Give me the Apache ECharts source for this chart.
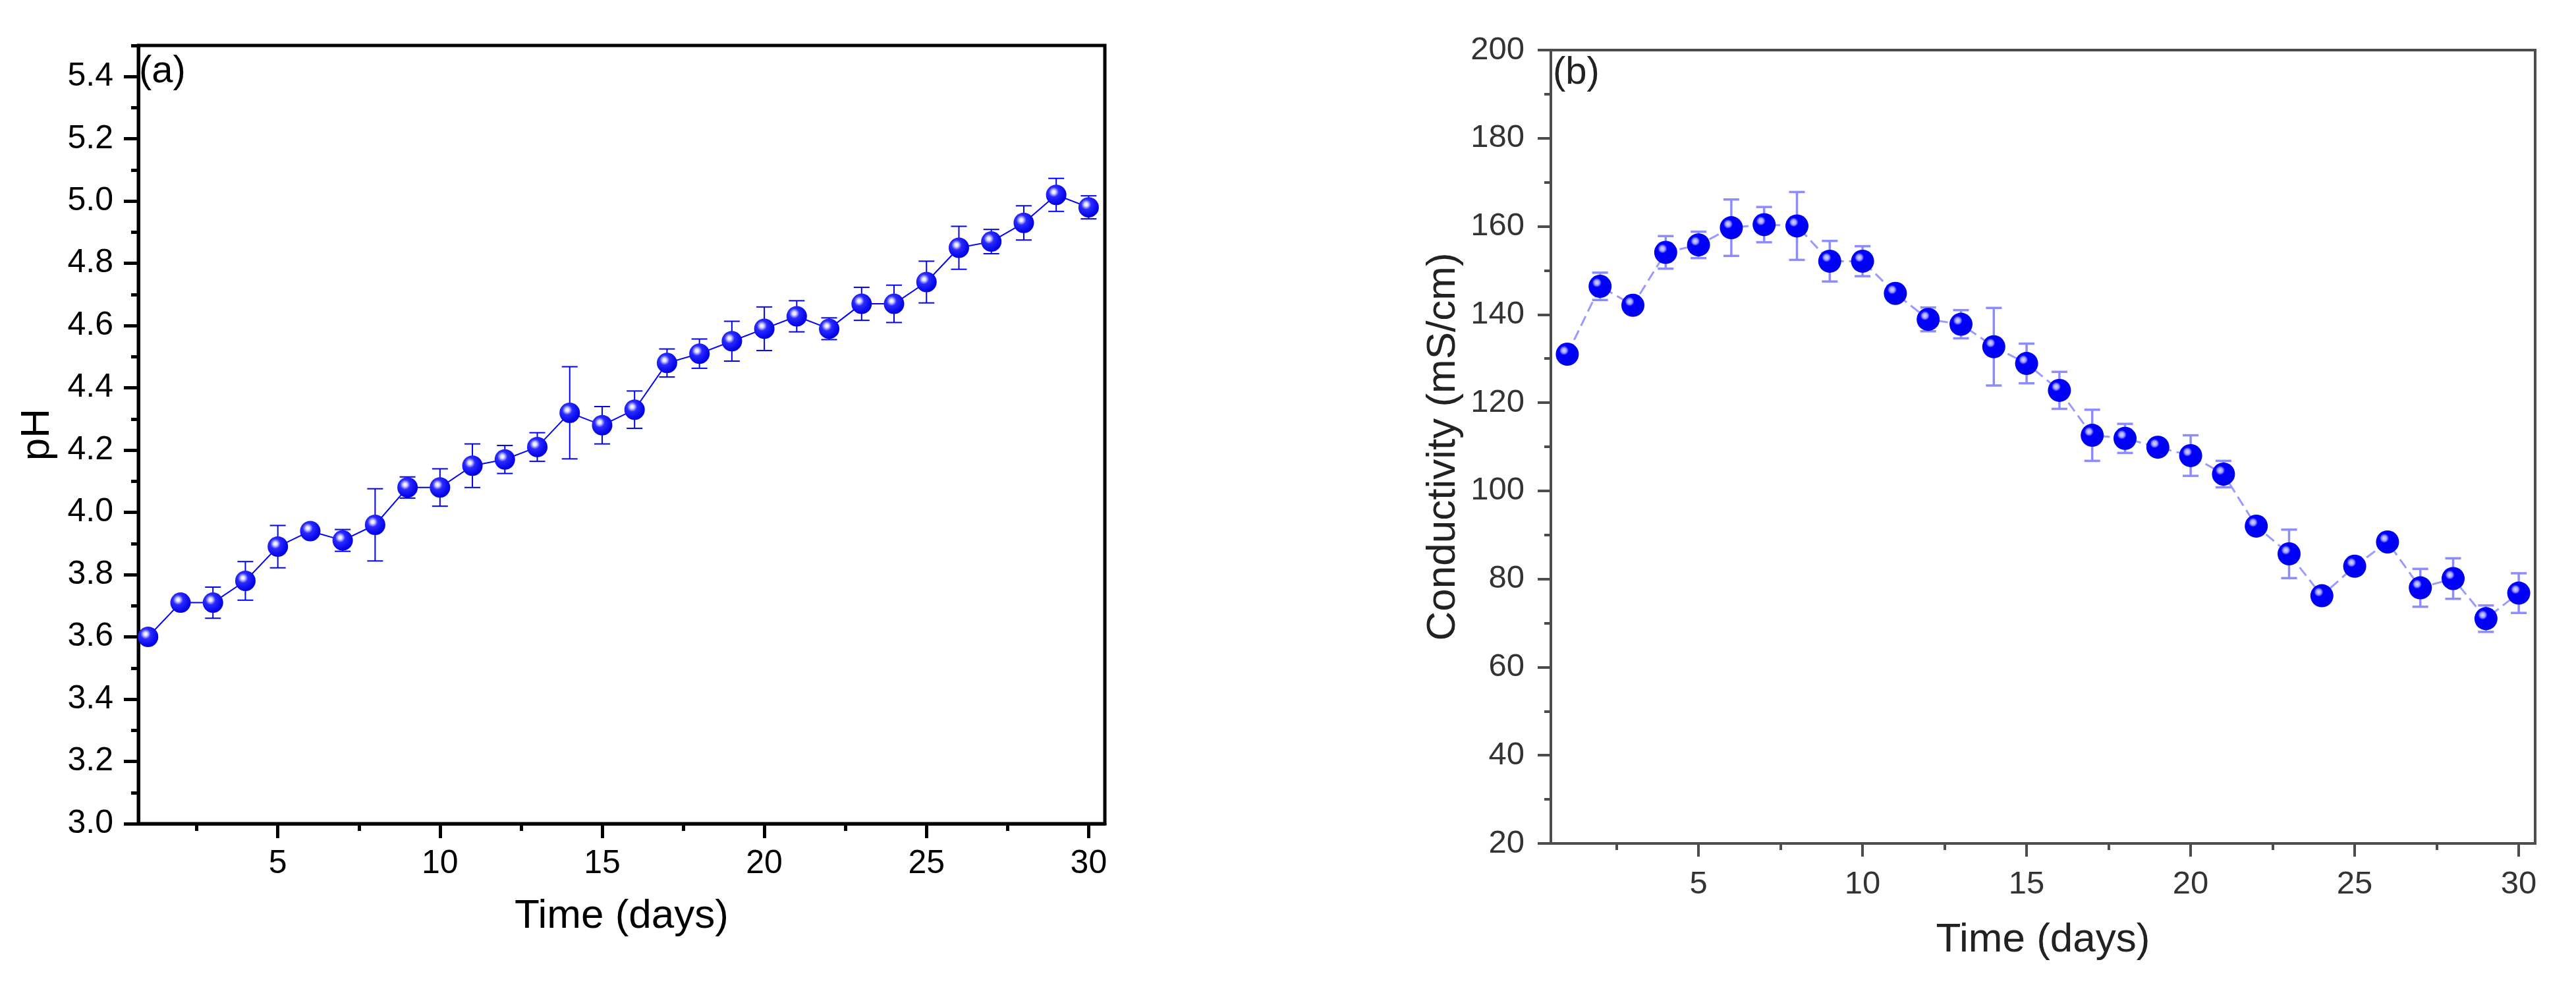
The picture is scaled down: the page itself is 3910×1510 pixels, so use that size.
<!DOCTYPE html>
<html>
<head>
<meta charset="utf-8">
<script src="https://cdn.jsdelivr.net/npm/echarts@6/dist/echarts.min.js"></script>
<style>
  html, body { margin: 0; padding: 0; background: #fff; }
  #chart { width: 3910px; height: 1510px; }
</style>
</head>
<body>
<div id="chart"></div>
<script>
// days of sampling
const days = [1, 2, 3, 4, 5, 6, 7, 8, 9, 10, 11, 12, 13, 14, 15, 16, 17, 18, 19, 20, 21, 22, 23, 24, 25, 26, 27, 28, 29, 30];

// (a) pH
const phValues = [3.60, 3.71, 3.71, 3.78, 3.89, 3.94, 3.91, 3.96, 4.08, 4.08, 4.15, 4.17, 4.21, 4.32, 4.28,
                  4.33, 4.48, 4.51, 4.55, 4.59, 4.63, 4.59, 4.67, 4.67, 4.74, 4.85, 4.87, 4.93, 5.02, 4.98];
const phErrors = [0, 0, 0.05, 0.062, 0.068, 0.01, 0.035, 0.116, 0.034, 0.06, 0.07, 0.045, 0.046, 0.148, 0.06,
                  0.06, 0.045, 0.047, 0.064, 0.07, 0.05, 0.035, 0.053, 0.06, 0.067, 0.069, 0.039, 0.055, 0.053, 0.037];

// (b) conductivity
const condValues = [131.0, 146.4, 142.1, 154.1, 155.8, 159.7, 160.4, 160.1, 152.1, 152.1, 144.8, 138.9, 137.8, 132.7, 128.9,
                    122.8, 112.6, 111.9, 109.9, 108.0, 103.8, 92.0, 85.7, 76.2, 82.9, 88.4, 78.0, 80.1, 71.0, 76.8];
const condErrors = [0, 3.1, 0, 3.7, 3.0, 6.4, 4.0, 7.7, 4.6, 3.4, 0, 2.7, 3.2, 8.8, 4.5,
                    4.2, 5.8, 3.3, 0, 4.6, 3.0, 0, 5.5, 0, 0, 0, 4.3, 4.6, 3.0, 4.5];

// tick values
const dayTicks = [5, 10, 15, 20, 25, 30];
const dayMinorTicks = [2.5, 7.5, 12.5, 17.5, 22.5, 27.5];
const phTicks = [3.0, 3.2, 3.4, 3.6, 3.8, 4.0, 4.2, 4.4, 4.6, 4.8, 5.0, 5.2, 5.4];
const phMinorTicks = [3.1, 3.3, 3.5, 3.7, 3.9, 4.1, 4.3, 4.5, 4.7, 4.9, 5.1, 5.3, 5.5];
const condTicks = [20, 40, 60, 80, 100, 120, 140, 160, 180, 200];
const condMinorTicks = [30, 50, 70, 90, 110, 130, 150, 170, 190];

const FONT = '"Liberation Sans", Arial, sans-serif';

const pairs = (xs, ys) => xs.map((x, i) => [x, ys[i]]);
const errData = (xs, ys, es) => xs
    .map((x, i) => [x, ys[i] - es[i], ys[i] + es[i], es[i]])
    .filter(d => d[3] > 0);

// vertical error bar with caps
const errorBar = (capHalf, color, width) => (params, api) => {
    const x = api.value(0);
    const top = api.coord([x, api.value(2)]);
    const bot = api.coord([x, api.value(1)]);
    const style = { stroke: color, lineWidth: width };
    return {
        type: 'group',
        children: [
            { type: 'line', shape: { x1: top[0], y1: top[1], x2: bot[0], y2: bot[1] }, style },
            { type: 'line', shape: { x1: top[0] - capHalf, y1: top[1], x2: top[0] + capHalf, y2: top[1] }, style },
            { type: 'line', shape: { x1: bot[0] - capHalf, y1: bot[1], x2: bot[0] + capHalf, y2: bot[1] }, style }
        ]
    };
};

// 3D-looking sphere markers
const sphereA = {
    type: 'radial', x: 0.38, y: 0.36, r: 0.62,
    colorStops: [
        { offset: 0, color: '#ffffff' },
        { offset: 0.14, color: '#e0e0ff' },
        { offset: 0.26, color: '#8a8aff' },
        { offset: 0.4, color: '#2a2aff' },
        { offset: 1, color: '#0000e6' }
    ]
};
const sphereB = {
    type: 'radial', x: 0.36, y: 0.34, r: 0.6,
    colorStops: [
        { offset: 0, color: '#d8d8ff' },
        { offset: 0.18, color: '#a0a0ff' },
        { offset: 0.34, color: '#0000ff' },
        { offset: 1, color: '#0000f0' }
    ]
};

const axisCommon = (color, lw) => ({
    type: 'value',
    splitLine: { show: false },
    axisLine: { show: true, onZero: false, lineStyle: { color, width: lw } }
});

const chart = echarts.init(document.getElementById('chart'));

chart.setOption({
    backgroundColor: '#ffffff',
    animation: false,
    grid: [
        { left: 210, top: 69, width: 1467, height: 1181, show: true, borderColor: '#000', borderWidth: 5, backgroundColor: 'transparent' },
        { left: 2354, top: 76, width: 1494, height: 1204, show: true, borderColor: '#4d4d4d', borderWidth: 4, backgroundColor: 'transparent' }
    ],
    xAxis: [
        Object.assign(axisCommon('#000', 5), {
            gridIndex: 0, min: 0.7, max: 30.5, position: 'bottom',
            name: 'Time (days)', nameLocation: 'middle', nameGap: 110,
            nameTextStyle: { fontFamily: FONT, fontSize: 62, color: '#000' },
            axisTick: { show: true, customValues: dayTicks, length: 22, lineStyle: { color: '#000', width: 5 } },
            axisLabel: { show: true, customValues: dayTicks, margin: 36, fontFamily: FONT, fontSize: 50, color: '#000' }
        }),
        Object.assign(axisCommon('#000', 5), {
            gridIndex: 0, min: 0.7, max: 30.5, position: 'bottom',
            axisLine: { show: false },
            axisTick: { show: true, customValues: dayMinorTicks, length: 11, lineStyle: { color: '#000', width: 5 } },
            axisLabel: { show: false }
        }),
        Object.assign(axisCommon('#4d4d4d', 4), {
            gridIndex: 1, min: 0.5, max: 30.5, position: 'bottom',
            name: 'Time (days)', nameLocation: 'middle', nameGap: 116,
            nameTextStyle: { fontFamily: FONT, fontSize: 62, color: '#222' },
            axisTick: { show: true, customValues: dayTicks, length: 20, lineStyle: { color: '#4d4d4d', width: 4 } },
            axisLabel: { show: true, customValues: dayTicks, margin: 38, fontFamily: FONT, fontSize: 49, color: '#333' }
        }),
        Object.assign(axisCommon('#4d4d4d', 4), {
            gridIndex: 1, min: 0.5, max: 30.5, position: 'bottom',
            axisLine: { show: false },
            axisTick: { show: true, customValues: dayMinorTicks, length: 10, lineStyle: { color: '#4d4d4d', width: 4 } },
            axisLabel: { show: false }
        })
    ],
    yAxis: [
        Object.assign(axisCommon('#000', 5), {
            gridIndex: 0, min: 3.0, max: 5.5, position: 'left',
            name: 'pH', nameLocation: 'middle', nameRotate: 90, nameGap: 122,
            nameTextStyle: { fontFamily: FONT, fontSize: 62, color: '#000' },
            axisTick: { show: true, customValues: phTicks, length: 22, lineStyle: { color: '#000', width: 5 } },
            axisLabel: { show: true, customValues: phTicks, margin: 38, fontFamily: FONT, fontSize: 50, color: '#000',
                         formatter: v => v.toFixed(1) }
        }),
        Object.assign(axisCommon('#000', 5), {
            gridIndex: 0, min: 3.0, max: 5.5, position: 'left',
            axisLine: { show: false },
            axisTick: { show: true, customValues: phMinorTicks, length: 11, lineStyle: { color: '#000', width: 5 } },
            axisLabel: { show: false }
        }),
        Object.assign(axisCommon('#4d4d4d', 4), {
            gridIndex: 1, min: 20, max: 200, position: 'left',
            name: 'Conductivity (mS/cm)', nameLocation: 'middle', nameRotate: 90, nameGap: 132,
            nameTextStyle: { fontFamily: FONT, fontSize: 62, color: '#222' },
            axisTick: { show: true, customValues: condTicks, length: 20, lineStyle: { color: '#4d4d4d', width: 4 } },
            axisLabel: { show: true, customValues: condTicks, margin: 40, fontFamily: FONT, fontSize: 49, color: '#333' }
        }),
        Object.assign(axisCommon('#4d4d4d', 4), {
            gridIndex: 1, min: 20, max: 200, position: 'left',
            axisLine: { show: false },
            axisTick: { show: true, customValues: condMinorTicks, length: 10, lineStyle: { color: '#4d4d4d', width: 4 } },
            axisLabel: { show: false }
        })
    ],
    graphic: [
        { type: 'text', left: 211, top: 80, style: { text: '(a)', fontFamily: FONT, fontSize: 58, fill: '#000' } },
        { type: 'text', left: 2357, top: 82, style: { text: '(b)', fontFamily: FONT, fontSize: 58, fill: '#222' } }
    ],
    series: [
        {
            type: 'custom', xAxisIndex: 0, yAxisIndex: 0, z: 2,
            data: errData(days, phValues, phErrors),
            renderItem: errorBar(12, '#0000ff', 2)
        },
        {
            type: 'line', xAxisIndex: 0, yAxisIndex: 0, z: 3,
            data: pairs(days, phValues),
            symbol: 'circle', symbolSize: 31,
            lineStyle: { color: '#0000ff', width: 2 },
            itemStyle: { color: sphereA, borderWidth: 0 }
        },
        {
            type: 'custom', xAxisIndex: 2, yAxisIndex: 2, z: 2,
            data: errData(days, condValues, condErrors),
            renderItem: errorBar(12, '#8c8cff', 3.5)
        },
        {
            type: 'line', xAxisIndex: 2, yAxisIndex: 2, z: 3,
            data: pairs(days, condValues),
            symbol: 'circle', symbolSize: 35,
            lineStyle: { color: '#9a9aff', width: 3, type: [16, 8] },
            itemStyle: { color: sphereB, borderWidth: 0 }
        }
    ]
});
</script>
</body>
</html>
